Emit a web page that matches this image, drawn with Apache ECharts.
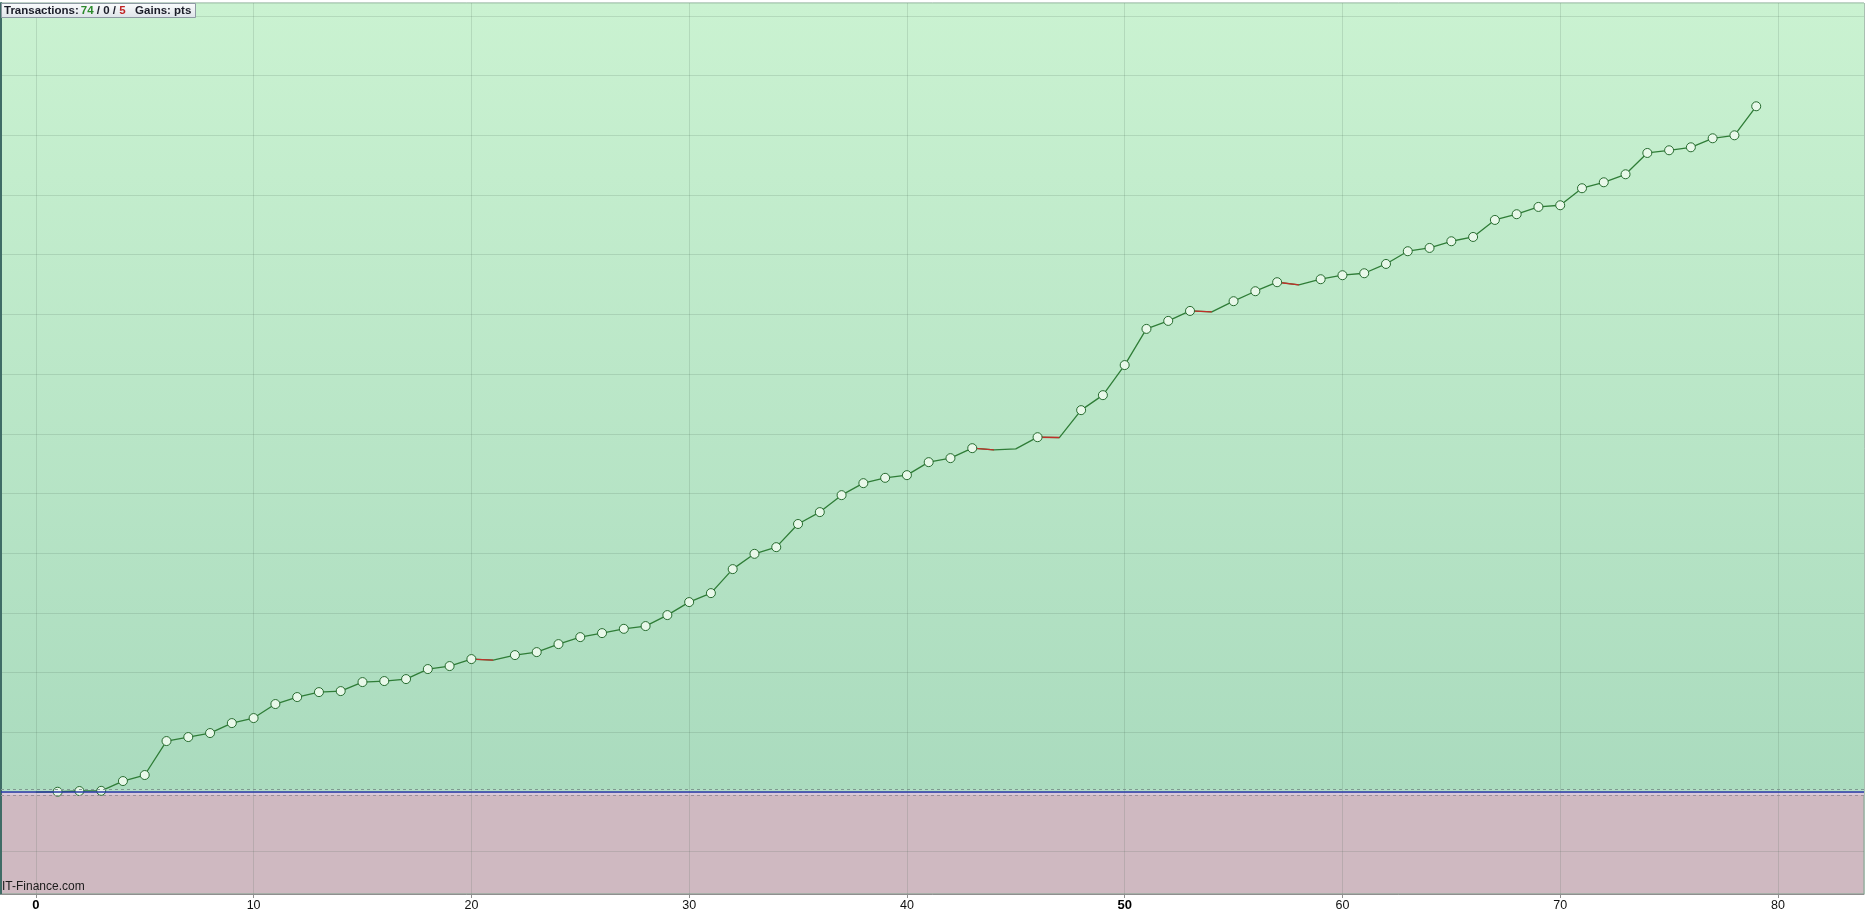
<!DOCTYPE html>
<html><head><meta charset="utf-8">
<script src="https://cdn.jsdelivr.net/npm/echarts@6/dist/echarts.min.js"></script>
<style>html,body{margin:0;padding:0;background:#fff;}#c{width:1865px;height:913px;}</style>
</head><body><div id="c"></div>
<script>
// ---- data ----
const tradeNumbers = [0,1,2,3,4,5,6,7,8,9,10,11,12,13,14,15,16,17,18,19,20,21,22,23,24,25,26,27,28,29,30,31,32,33,34,35,36,37,38,39,40,41,42,43,44,45,46,47,48,49,50,51,52,53,54,55,56,57,58,59,60,61,62,63,64,65,66,67,68,69,70,71,72,73,74,75,76,77,78,79];
const equity = [0,0.05,0.17,0.2,1.84,2.85,8.54,9.21,9.88,11.55,12.39,14.74,15.91,16.74,16.91,18.42,18.59,18.92,20.60,21.10,22.27,22.10,22.94,23.44,24.78,25.95,26.62,27.34,27.80,29.64,31.82,33.32,37.34,39.90,41.02,44.90,46.89,49.73,51.74,52.63,53.08,55.26,55.93,57.60,57.32,57.49,59.44,59.38,63.97,66.48,71.52,77.58,78.92,80.59,80.43,82.22,83.89,85.40,84.95,85.90,86.57,86.90,88.46,90.59,91.14,92.26,92.98,95.83,96.79,98.01,98.29,101.14,102.14,103.48,107.05,107.50,108.00,109.51,110.01,114.87];
const tradeCounts = [74, 0, 5];        // winning / flat / losing
const gainsUnit = 'pts';
const xTickLabels = [0,10,20,30,40,50,60,70,80];
const boldTickLabels = [0,50];
const watermark = 'IT-Finance.com';

// ---- derived ----
const points = tradeNumbers.map((t,i)=>[t, equity[i]]);
const lossSegments = [];
for (let i=1;i<equity.length;i++){ if (equity[i] < equity[i-1]) lossSegments.push([points[i-1], points[i]]); }
const newHighs = [];
let peak = equity[0];
for (let i=1;i<equity.length;i++){ if (equity[i] > peak){ peak = equity[i]; newHighs.push(points[i]); } }

const X_MIN = -1.6, X_MAX = 83.95, Y_MIN = -17.08, Y_MAX = 132.17;
const GREEN = '#2f7d37';
const RED = '#c0302a';
const FONT = 'Liberation Sans';

const chart = echarts.init(document.getElementById('c'), null, {renderer:'canvas'});
const gridLine = {show:true, lineStyle:{color:'rgba(70,100,85,0.17)', width:1}};
const series = [{
    type:'line', data:points, z:3, showSymbol:false, symbol:'none', silent:true,
    lineStyle:{width:1.3, color:GREEN},
    markArea:{silent:true, z:1, data:[
      [{yAxis:0, itemStyle:{color:{type:'linear',x:0,y:0,x2:0,y2:1,colorStops:[{offset:0,color:'#caf2d1'},{offset:1,color:'#aadbbe'}]}}},{yAxis:Y_MAX}],
      [{yAxis:0, itemStyle:{color:'#b4dfc6'}},{yAxis:0.5}],
      [{yAxis:-0.5, itemStyle:{color:'#d8c9da'}},{yAxis:0}]
    ]},
    markLine:{silent:true, symbol:['none','none'], label:{show:false}, data:[
      {yAxis:0.5, lineStyle:{color:'#7f9a90', type:[3,3], width:1}},
      {yAxis:-0.5, lineStyle:{color:'#9a8f99', type:[3,3], width:1}},
      {yAxis:0, lineStyle:{color:'#2b3aa8', type:'solid', width:1.5}}
    ]}
  }];
lossSegments.forEach(seg => series.push({
  type:'line', data:seg, z:3.5, showSymbol:false, symbol:'none', silent:true,
  lineStyle:{width:1.4, color:RED}
}));
series.push({
  type:'scatter', data:newHighs, z:4, symbol:'circle', symbolSize:9, silent:true,
  itemStyle:{color:'#e8f8e9', borderColor:'#266b2f', borderWidth:1, opacity:1}
});

chart.setOption({
  animation:false,
  backgroundColor:'#ffffff',
  title:[{
    text:'{a|Transactions:}{g|' + tradeCounts[0] + '}{a| / }{n|' + tradeCounts[1] + '}{a| / }{r|' + tradeCounts[2] + '}{a|   Gains: }{a|' + gainsUnit + '}',
    left:1, top:3, padding:[2,4,1,3], itemGap:0,
    backgroundColor:{type:'linear',x:0,y:0,x2:0,y2:1,colorStops:[{offset:0,color:'#fbfcfd'},{offset:1,color:'#dde3e8'}]},
    borderColor:'#8d99a3', borderWidth:1,
    textStyle:{fontFamily:FONT, fontSize:11.5, fontWeight:'bold', color:'#1a1c28',
      rich:{
        a:{fontFamily:FONT, fontSize:11.5, fontWeight:'bold', color:'#1a1c28'},
        g:{fontFamily:FONT, fontSize:11.5, fontWeight:'bold', color:'#2c8a2c', padding:[0,0,0,2]},
        n:{fontFamily:FONT, fontSize:11.5, fontWeight:'bold', color:'#1a1c28'},
        r:{fontFamily:FONT, fontSize:11.5, fontWeight:'bold', color:'#c02424'}
      }}
  },{
    text:watermark, left:2, top:881, padding:0,
    textStyle:{fontFamily:FONT, fontSize:12, fontWeight:'normal', color:'#1b1b1b'}
  }],
  grid:{left:1, right:1, top:3, bottom:19, show:true, backgroundColor:'#cfb9c1', borderColor:'#7fa58e', borderWidth:1, containLabel:false},
  xAxis:{type:'value', min:X_MIN, max:X_MAX, minInterval:10, maxInterval:10, z:2,
    axisLine:{show:true, onZero:false, lineStyle:{color:'#8f8f8f'}},
    axisTick:{show:true, length:4, lineStyle:{color:'#8f8f8f'}},
    axisLabel:{show:true, showMinLabel:false, showMaxLabel:false, margin:5, fontFamily:FONT, fontSize:12.5, color:'#111',
      formatter:v => xTickLabels.includes(v) ? (boldTickLabels.includes(v) ? '{b|'+v+'}' : String(v)) : '',
      rich:{b:{fontFamily:FONT, fontSize:13, fontWeight:'bold', color:'#000'}}},
    splitLine:gridLine},
  yAxis:{type:'value', min:Y_MIN, max:Y_MAX, minInterval:10, maxInterval:10, z:2,
    axisLine:{show:true, onZero:false, lineStyle:{color:'#3f6c66', width:2}},
    axisTick:{show:false}, axisLabel:{show:false},
    splitLine:gridLine},
  series: series
});
</script>
</body></html>
